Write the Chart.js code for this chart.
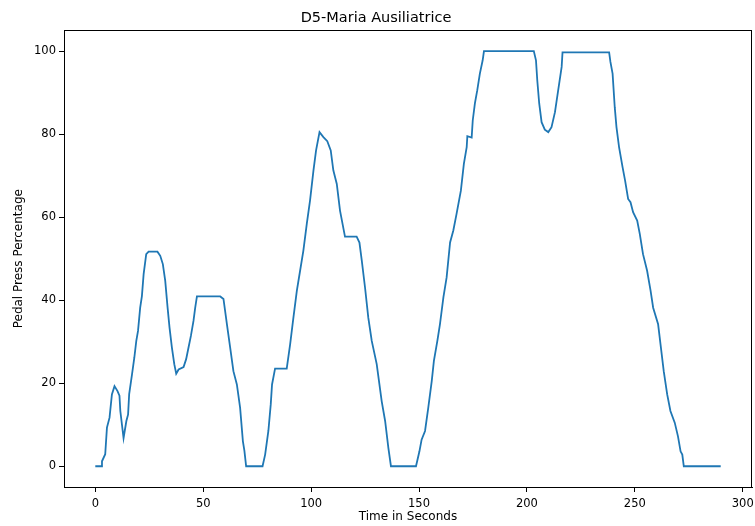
<!DOCTYPE html>
<html>
<head>
<meta charset="utf-8">
<script src="https://cdn.jsdelivr.net/npm/chart.js@4"></script>
<style>
  body { margin: 0; background: #fff; }
  #wrap { width: 755px; height: 526px; }
</style>
</head>
<body>
<div id="wrap"><canvas id="pedalChart" width="755" height="526"></canvas></div>
<script>
// values
const times = [
  0, 2.8, 3.1, 4.6, 5.4, 6.6, 7.7, 8.9, 10.3, 11.2, 11.6, 13.1, 14.4, 15.2, 15.7, 17, 18.1, 19, 19.8, 20.8,
  21.6, 22.4, 23.6, 24.7, 28.8, 30.1, 31.3, 32.4, 33.5, 34.4, 35.5, 36.6, 37.5, 38.6, 40.9, 42.1, 43.2, 44.3, 45.5, 46.3,
  47.1, 57.9, 59.4, 61, 62.5, 64, 65.6, 67.1, 68.4, 69.1, 69.9, 77.5, 78.7, 80.2, 81.3, 81.9, 83.3, 88.7, 90.3, 91.8,
  93.4, 94.9, 96.4, 98, 99.5, 101.1, 102.3, 103.9, 105.7, 107.5, 109.1, 110.3, 111.9, 113.4, 115.7, 121.1, 122.4, 123.5, 125, 126.5,
  128.1, 130.4, 132.7, 134.3, 135.8, 137, 148.6, 150.2, 151.2, 152.8, 154.3, 155.9, 156.9, 158.5, 159.7, 161.3, 162.8, 164.4, 165.9, 167.4,
  169.4, 170.8, 172.1, 172.4, 174.4, 174.9, 175.9, 177, 178.2, 179.5, 180.1, 203.2, 204.2, 204.8, 205.7, 206.8, 208.3, 209.9, 211.4, 213,
  214.5, 216.1, 216.5, 238.1, 238.7, 239.7, 240.7, 241.5, 242.7, 244.3, 245.5, 246.9, 248, 249.2, 251.1, 252.3, 253.8, 255.7, 257.3, 258.5,
  260.8, 261.9, 263.4, 265, 266.5, 268.5, 270, 271.2, 272, 272.7, 289.8
];
const pedal = [
  0, 0, 1.2, 2.9, 9.3, 11.7, 17.3, 19.3, 18.1, 17, 13.3, 6.8, 10.9, 12.5, 17.4, 22.1, 26.2, 30.2, 32.6, 38.2,
  41, 46.3, 51.1, 51.7, 51.7, 50.7, 48.7, 44.7, 38.2, 33.4, 28.6, 24.6, 22.3, 23.3, 23.9, 25.8, 28.6, 31.4, 35, 38.2,
  40.9, 40.9, 40.3, 34.2, 28.6, 22.9, 19.7, 14.1, 6, 3.7, 0, 0, 2.8, 8.5, 14.9, 19.7, 23.5, 23.5, 29.4, 35.8,
  42.3, 47.1, 51.9, 58.4, 64, 71.3, 76.1, 80.5, 79.3, 78.3, 76.1, 71.3, 68, 61.6, 55.3, 55.3, 53.9, 49.5, 43, 35.8,
  30.2, 24.6, 15.7, 10.9, 4.4, 0, 0, 3.6, 6.4, 8.5, 14.1, 20.5, 25.4, 30.2, 34.2, 40.7, 45.5, 53.9, 56.8, 60.8,
  66.4, 72.9, 76.9, 79.5, 79.2, 83.3, 87.4, 90.6, 94.6, 97.8, 100, 100, 97.8, 93, 87.4, 82.9, 81.1, 80.5, 81.7, 85.3,
  90.6, 96.2, 99.7, 99.7, 97.4, 94.6, 86.5, 81.7, 76.9, 72.1, 68.8, 64.4, 63.6, 61.2, 59.2, 56, 51.1, 47.1, 42.3, 38.2,
  34.2, 29.4, 22.9, 17.3, 13.3, 10.5, 7.2, 3.6, 2.8, 0, 0
];
const xTicks = [0, 50, 100, 150, 200, 250, 300];
const yTicks = [0, 20, 40, 60, 80, 100];

const fontFam = "'DejaVu Sans', sans-serif";

// box round the plot, like matplotlib spines
const frame = {
  id: 'frame',
  afterDraw(chart) {
    const a = chart.chartArea, c = chart.ctx;
    c.save();
    c.strokeStyle = '#000';
    c.lineWidth = 1;
    c.strokeRect(Math.round(a.left) + 0.5, Math.round(a.top) + 0.5,
      Math.round(a.right - a.left) - 1, Math.round(a.bottom - a.top));
    c.restore();
  }
};

const ctx = document.getElementById('pedalChart').getContext('2d');
new Chart(ctx, {
  type: 'line',
  data: {
    datasets: [{
      data: times.map((t, i) => ({ x: t, y: pedal[i] })),
      borderColor: '#1f77b4',
      borderWidth: 1.8,
      pointRadius: 0,
      tension: 0,
      fill: false
    }]
  },
  options: {
    responsive: false,
    animation: false,
    layout: { padding: { left: 0, right: 3, top: 0, bottom: 0 } },
    plugins: {
      legend: { display: false },
      tooltip: { enabled: false },
      title: {
        display: true,
        text: 'D5-Maria Ausiliatrice',
        color: '#000',
        font: { family: fontFam, size: 14.5, weight: 'normal' },
        padding: { top: 10, bottom: 3 }
      }
    },
    scales: {
      x: {
        type: 'linear',
        min: -14.5,
        max: 304.3,
        afterBuildTicks: s => { s.ticks = xTicks.map(v => ({ value: v })); },
        afterFit: s => { s.height = 39; s.paddingLeft = 0; s.paddingRight = 0; },
        ticks: {
          color: '#000',
          padding: 5,
          maxRotation: 0,
          font: { family: fontFam, size: 11.5 }
        },
        grid: { display: true, drawOnChartArea: false, drawTicks: true, tickLength: 5, color: '#000' },
        border: { display: true, color: '#000', width: 1 },
        title: {
          display: true,
          text: 'Time in Seconds',
          color: '#000',
          font: { family: fontFam, size: 12 },
          padding: { top: 0, bottom: 2 }
        }
      },
      y: {
        type: 'linear',
        min: -5,
        max: 105,
        afterBuildTicks: s => { s.ticks = yTicks.map(v => ({ value: v })); },
        afterFit: s => { s.width = 64; s.paddingTop = 0; s.paddingBottom = 0; },
        ticks: {
          color: '#000',
          padding: 3,
          font: { family: fontFam, size: 11.5 }
        },
        grid: { display: true, drawOnChartArea: false, drawTicks: true, tickLength: 5, color: '#000' },
        border: { display: true, color: '#000', width: 1 },
        title: {
          display: true,
          text: 'Pedal Press Percentage',
          color: '#000',
          font: { family: fontFam, size: 12 },
          padding: { top: 12, bottom: 0 }
        }
      }
    }
  },
  plugins: [frame]
});
</script>
</body>
</html>
